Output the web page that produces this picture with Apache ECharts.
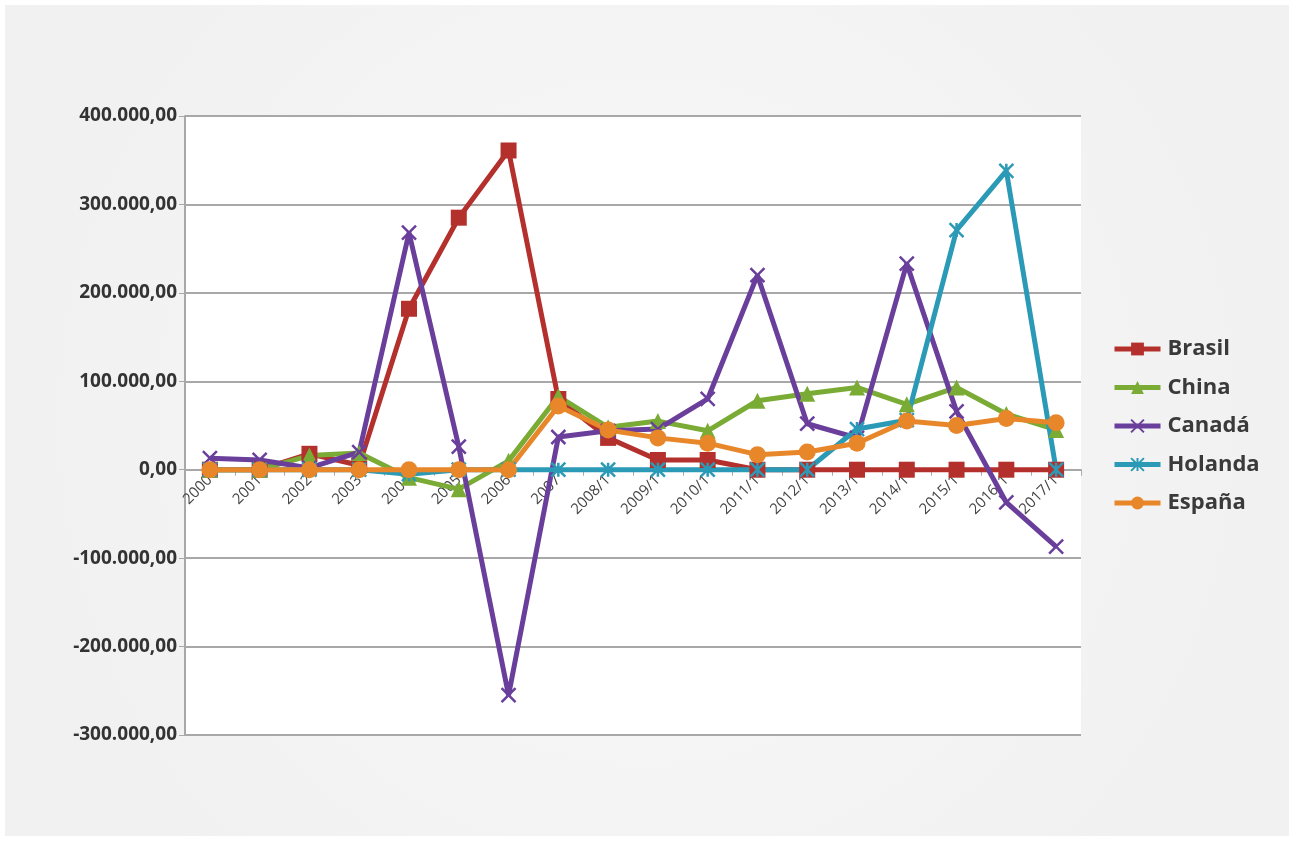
<!DOCTYPE html>
<html>
<head>
<meta charset="utf-8">
<script src="https://cdn.jsdelivr.net/npm/echarts@6/dist/echarts.min.js"></script>
<style>
  html, body { margin: 0; padding: 0; background: #ffffff; }
  #chart { position: absolute; left: 5px; top: 5px; width: 1284px; height: 831px; }
</style>
</head>
<body>
<div id="chart"></div>
<script>
// categorías del eje x
const years = ['2000', '2001', '2002', '2003', '2004', '2005', '2006', '2007', '2008/1', '2009/1',
  '2010/1', '2011/1', '2012/1', '2013/1', '2014/1', '2015/1', '2016/1', '2017/1']

// valores
const brasil = [0, 0, 18000, 5000, 182000, 285000, 361000, 80000, 36000, 11000, 11000, 0, 0, 0, 0, 0, 0, 0]
const china = [0, 0, 16000, 19000, -9000, -22000, 10000, 83000, 48000, 55000, 44000, 78000, 86000, 93000, 74000, 93000, 63000, 45000]
const canada = [13000, 11000, 2000, 20000, 268000, 26000, -255000, 37000, 44000, 46000, 80000, 220000, 52000, 36000, 233000, 66000, -37000, -87000]
const holanda = [0, 0, 0, 0, -5000, 0, 0, 0, 0, 0, 0, 0, 0, 46000, 56000, 271000, 338000, 0]
const espana = [0, 0, 0, 0, 0, 0, 0, 72000, 45000, 36000, 30000, 17000, 20000, 30000, 55000, 50000, 58000, 53000]

const seriesNames = ['Brasil', 'China', 'Canadá', 'Holanda', 'España']
const seriesColors = ['#b3302c', '#7aab35', '#6a3f9b', '#2b9ab6', '#e8872a']

const chart = echarts.init(document.getElementById('chart'))

// formato 400.000,00
const fmt = (v) => {
  const s = Math.abs(v).toFixed(0).replace(/\B(?=(\d{3})+(?!\d))/g, '.')
  return (v < 0 ? '-' : '') + s + ',00'
}

const symbols = [
  'rect',
  'triangle',
  'path://M0,0L10,10M10,0L0,10',
  'path://M5,0L5,10M0,0L10,10M10,0L0,10',
  'circle'
]
const sizes = [16, 16, 14, 14, 17]
const datas = [brasil, china, canada, holanda, espana]

const gridTop = 111
const gridBottom = 101
const plotH = 831 - gridTop - gridBottom

const option = {
  backgroundColor: {
    type: 'radial', x: 0.5, y: 0.5, r: 0.75,
    colorStops: [
      { offset: 0, color: '#f9f9f9' },
      { offset: 1, color: '#f1f1f1' }
    ]
  },
  animation: false,
  textStyle: { fontFamily: 'Open Sans' },
  grid: {
    left: 180, right: 208, top: gridTop, bottom: gridBottom,
    show: true, backgroundColor: '#ffffff', borderWidth: 0
  },
  legend: {
    orient: 'vertical',
    left: 1102,
    top: 328,
    itemWidth: 46,
    itemHeight: 16,
    itemGap: 16.5,
    lineStyle: { width: 5 },
    textStyle: { fontSize: 22, fontWeight: 'bold', color: '#3a3a3a', padding: [0, 0, 0, 2] },
    data: seriesNames
  },
  xAxis: {
    type: 'category',
    data: years,
    // el eje se coloca sobre el cero
    offset: -plotH * 3 / 7,
    axisLine: { onZero: false, lineStyle: { color: '#a8a8a8', width: 2 } },
    axisTick: { show: true, length: 6, lineStyle: { color: '#a8a8a8', width: 1 } },
    axisLabel: { rotate: 45, fontSize: 15, color: '#444', margin: 8 },
    splitLine: { show: false }
  },
  yAxis: {
    type: 'value',
    min: -300000,
    max: 400000,
    interval: 100000,
    axisLine: { show: true, lineStyle: { color: '#a8a8a8', width: 2 } },
    axisTick: { show: true, length: 6, lineStyle: { color: '#a8a8a8' } },
    axisLabel: { fontSize: 19, fontWeight: 'bold', color: '#333', margin: 8, formatter: fmt },
    splitLine: { lineStyle: { color: '#a8a8a8', width: 2 } }
  },
  series: seriesNames.map((name, i) => ({
    name: name,
    type: 'line',
    data: datas[i],
    symbol: symbols[i],
    symbolSize: sizes[i],
    showAllSymbol: true,
    lineStyle: { width: 5, color: seriesColors[i] },
    itemStyle: {
      color: seriesColors[i],
      borderColor: seriesColors[i],
      borderWidth: i === 2 || i === 3 ? 2.5 : 0
    }
  }))
}

chart.setOption(option)

window.addEventListener('resize', () => chart.resize())
</script>
</body>
</html>
